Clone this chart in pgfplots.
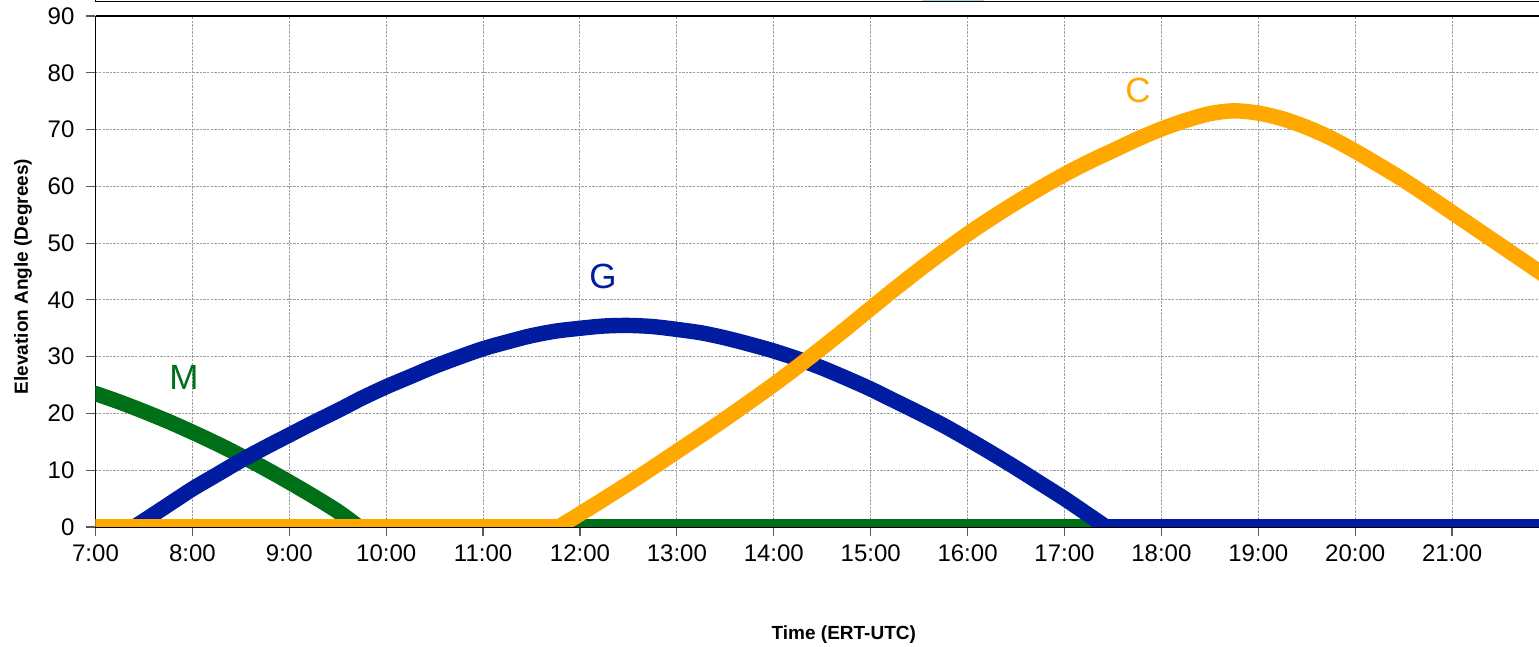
\documentclass[border=0pt]{standalone}
\usepackage{fontspec}
\setmainfont{Liberation Sans}
\usepackage{pgfplots}
\pgfplotsset{compat=1.18}
\definecolor{mgreen}{RGB}{0,112,24}
\definecolor{gblue}{RGB}{0,28,160}
\definecolor{corange}{RGB}{255,168,0}
\definecolor{legblue}{RGB}{168,214,232}
\begin{document}
\begin{tikzpicture}
\useasboundingbox (-47.75pt,-60pt) rectangle (721.75pt,263.5pt);
\clip (-47.75pt,-60pt) rectangle (721.75pt,263.5pt);
\begin{axis}[
  scale only axis, width=721.75pt, height=255.5pt,
  xmin=7, xmax=21.897, ymin=0, ymax=90,
  axis lines*=left,
  axis line style={black, line width=0.9pt},
  xtick={7,8,...,21},
  xticklabels={7:00,8:00,9:00,10:00,11:00,12:00,13:00,14:00,15:00,16:00,17:00,18:00,19:00,20:00,21:00},
  ytick={0,10,...,90},
  tick align=outside, major tick length=4.5pt,
  tick style={black!65, line width=0.6pt},
  grid=major,
  major grid style={gray!75, line width=0.5pt, dash pattern=on 1.2pt off 0.6pt},
  tick label style={font=\fontsize{12}{14}\selectfont},
  yticklabel style={xshift=-2.5pt},
  xticklabel style={yshift=-1pt},
  /pgf/number format/assume math mode=true,
  xlabel={Time (ERT-UTC)},
  ylabel={Elevation Angle (Degrees)},
  every axis x label/.style={at={(axis description cs:0.5184,-0.2211)}, anchor=base, font=\bfseries\fontsize{9.5}{11}\selectfont},
  every axis y label/.style={at={(axis description cs:-0.0502,0.4902)}, rotate=90, anchor=center, font=\bfseries\fontsize{9.5}{11}\selectfont},
  every axis plot/.append style={line width=7.7pt, line cap=round, line join=round},
]
% M (green)
\addplot[mgreen, smooth] coordinates {
(7.00,23.5) (7.25,22.0) (7.50,20.35) (7.75,18.6) (8.00,16.7) (8.25,14.7)
(8.50,12.55) (8.75,10.3) (9.00,7.9) (9.25,5.4) (9.50,2.75) (9.72,0)};
\addplot[mgreen] coordinates {(9.72,0) (21.9,0)};
% G (blue)
\addplot[gblue] coordinates {(7.00,0) (7.40,0)};
\addplot[gblue, smooth] coordinates {
(7.40,0) (7.50,1.1) (7.75,3.9) (8.00,6.7) (8.25,9.2) (8.50,11.7)
(8.75,14.0) (9.00,16.2) (9.25,18.4) (9.50,20.5) (9.75,22.7) (10.00,24.7)
(10.25,26.5) (10.50,28.3) (10.75,29.9) (11.00,31.4) (11.25,32.6) (11.50,33.7)
(11.75,34.5) (12.00,35.0) (12.25,35.4) (12.50,35.5) (12.75,35.3) (13.00,34.8)
(13.25,34.2) (13.50,33.3) (13.75,32.2) (14.00,31.0) (14.25,29.6) (14.50,28.0)
(14.75,26.2) (15.00,24.3) (15.25,22.2) (15.50,20.1) (15.75,17.9) (16.00,15.5)
(16.25,13.0) (16.50,10.4) (16.75,7.7) (17.00,5.0) (17.25,2.1) (17.43,0)};
\addplot[gblue] coordinates {(17.43,0) (21.9,0)};
% C (orange)
\addplot[corange] coordinates {(7.00,0) (11.78,0)};
\addplot[corange, smooth] coordinates {
(11.78,0) (12.00,2.3) (12.25,4.95) (12.50,7.65) (12.75,10.45)
(13.00,13.3) (13.25,16.15) (13.50,19.05) (13.75,22.05) (14.00,25.1) (14.25,28.3)
(14.50,31.6) (14.75,35.0) (15.00,38.5) (15.25,41.95) (15.50,45.3) (15.75,48.5)
(16.00,51.6) (16.25,54.45) (16.50,57.15) (16.75,59.7) (17.00,62.1) (17.25,64.3)
(17.50,66.3) (17.75,68.3) (18.00,70.1) (18.25,71.6) (18.50,72.8) (18.75,73.3)
(19.00,72.9) (19.25,71.9) (19.50,70.4) (19.75,68.5) (20.00,66.2) (20.25,63.7)
(20.50,61.1) (20.75,58.3) (21.00,55.4) (21.25,52.5) (21.50,49.6) (21.75,46.7)
(22.00,43.8)};
\node[text=mgreen, font=\fontsize{17.5}{20}\selectfont] at (axis cs:7.913,26.4) {M};
\node[text=gblue, font=\fontsize{17.5}{20}\selectfont] at (axis cs:12.237,44.07) {G};
\node[text=corange, font=\fontsize{17.5}{20}\selectfont] at (axis cs:17.76,76.85) {C};
\end{axis}
\draw[black, line width=0.9pt] (0,255.5pt) -- (725pt,255.5pt);
\draw[black, line width=0.5pt] (0,266pt) -- (0,262.5pt) -- (725pt,262.5pt);
\fill[legblue] (413.25pt,262.75pt) rectangle (444.25pt,266pt);
\end{tikzpicture}
\end{document}
